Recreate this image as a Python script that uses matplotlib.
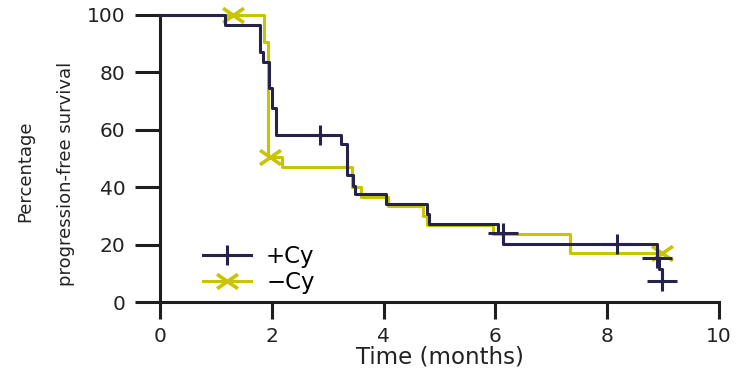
import matplotlib
matplotlib.use("Agg")
import matplotlib.pyplot as plt
from matplotlib.path import Path
from matplotlib.lines import Line2D

# Kaplan-Meier step data (time in months, percentage progression-free)
plus_times = [0, 1.16, 1.79, 1.85, 1.95, 2.01, 2.07, 3.23, 3.34, 3.45, 3.49, 4.04, 4.77, 4.82, 6.05, 6.14, 8.89, 8.93, 8.98]
plus_surv = [100, 96.5, 87, 83.7, 74.5, 67.6, 58.2, 55, 44.3, 40.4, 37.8, 34.1, 30.5, 27.2, 24, 20.2, 15.3, 11.5, 7.3]
plus_censor_t = [2.86, 6.14, 8.17, 8.89, 8.98]
plus_censor_s = [58.2, 24, 20.2, 15.3, 7.3]

minus_times = [0, 1.86, 1.94, 2.18, 3.43, 3.60, 4.08, 4.71, 4.77, 5.95, 7.34, 8.98]
minus_surv = [100, 90.5, 50.5, 47.0, 40.2, 36.6, 33.3, 30.0, 26.9, 23.7, 17.2, 17.2]
minus_censor_t = [1.30, 1.96, 8.98]
minus_censor_s = [100, 50.5, 17.2]

series_labels = ["+Cy", "\u2212Cy"]
x_ticks = [0, 2, 4, 6, 8, 10]
y_ticks = [0, 20, 40, 60, 80, 100]
y_label_lines = ["Percentage", "progression-free survival"]

navy = "#25234b"
olive = "#c8c400"
ink = "#1e1e1e"

# wide plus and wide cross censor markers
plus_marker = Path([(-1.5, 0), (1.5, 0), (0, -1), (0, 1)],
                   [Path.MOVETO, Path.LINETO, Path.MOVETO, Path.LINETO])
cross_marker = Path([(-1.45, -1), (1.45, 1), (-1.45, 1), (1.45, -1)],
                    [Path.MOVETO, Path.LINETO, Path.MOVETO, Path.LINETO])

plt.rcParams['font.family'] = ['DejaVu Sans']

W, H = 741, 378
fig = plt.figure(figsize=(W / 100, H / 100), dpi=100)
ax = fig.add_axes([160 / W, 1 - 302 / H, 559 / W, 287 / H])

lw = 2.2
ax.step(minus_times, minus_surv, where='post', color=olive, lw=lw, clip_on=False, zorder=3)
ax.plot(minus_censor_t, minus_censor_s, ls='none', marker=cross_marker, ms=15,
        mew=2.6, color=olive, clip_on=False, zorder=4)
ax.step(plus_times, plus_surv, where='post', color=navy, lw=lw, clip_on=False, zorder=5)
ax.plot(plus_censor_t, plus_censor_s, ls='none', marker=plus_marker, ms=21.5,
        mew=2.2, color=navy, clip_on=False, zorder=6)

ax.set_xlim(0, 10)
ax.set_ylim(0, 100)
ax.set_xticks(x_ticks)
ax.set_yticks(y_ticks)
for s in ['top', 'right']:
    ax.spines[s].set_visible(False)
for s in ['left', 'bottom']:
    ax.spines[s].set_linewidth(2.2)
    ax.spines[s].set_color(ink)
ax.tick_params(axis='both', direction='out', width=2.2, color=ink,
               labelsize=14.5, labelcolor='#222222')
ax.tick_params(axis='y', length=18, pad=7)
ax.tick_params(axis='x', length=12, pad=6)

ax.set_xlabel("Time (months)", fontsize=16.5, color='#222222', labelpad=0)

# two-line y label, each line placed as its own rotated text
fig.text(25 / W, 1 - 171 / H, y_label_lines[0], rotation=90, ha='center', va='center',
         fontsize=13, color='#222222')
fig.text(66 / W, 1 - 174 / H, y_label_lines[1], rotation=90, ha='center', va='center',
         fontsize=13, color='#222222')

handles = [
    Line2D([], [], color=navy, lw=lw, marker=plus_marker, ms=21.5, mew=2.2),
    Line2D([], [], color=olive, lw=lw, marker=cross_marker, ms=15, mew=2.6),
]
ax.legend(handles, series_labels, loc='lower left', bbox_to_anchor=(0.077, 0.028),
          frameon=False, fontsize=16.5, handlelength=2.1, handletextpad=0.65,
          labelspacing=0.15, borderaxespad=0, borderpad=0)

fig.savefig("out.png", dpi=100)
